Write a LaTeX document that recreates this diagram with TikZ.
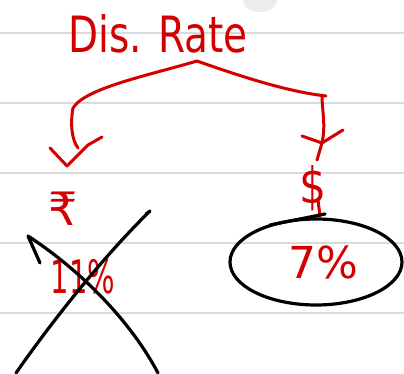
\documentclass[tikz,border=0pt]{standalone}
\usepackage{fontspec}
\setmainfont{DejaVu Sans}
\definecolor{ink}{RGB}{212,0,0}
\definecolor{rule}{RGB}{218,218,218}
\begin{document}
\begin{tikzpicture}[x=1pt,y=-1pt,
  redstroke/.style={draw=ink,line width=3pt,line cap=round,line join=round},
  blackstroke/.style={draw=black,line width=3.2pt,line cap=round,line join=round},
  ruleline/.style={draw=rule,line width=2pt},
  label/.style={text=ink,inner sep=0pt}]
\useasboundingbox (0,0) rectangle (404,374);
\fill[white] (0,0) rectangle (404,374);
\fill[rule!50] (260,0) ellipse [x radius=17, y radius=12];
\foreach \yy in {33,103,173,243,313} \draw[ruleline] (0,\yy) -- (404,\yy);
% labels
\node[label,font=\fontsize{50}{50}\selectfont] (title) at (158,34) {\scalebox{0.78}[1]{Dis. Rate}};
\coordinate (apex) at (197,61);
\node[label,font=\fontsize{46}{46}\selectfont] (rupee) at (63,209) {₹};
\node[label,font=\fontsize{50}{50}\selectfont] (dollar) at (313,188) {\scalebox{0.85}[1]{\$}};
\node[label,font=\fontsize{46}{46}\selectfont] (eleven) at (83,277) {\scalebox{0.63}[1]{11\%}};
\node[label,font=\fontsize{44}{44}\selectfont] (seven) at (323,262) {7\%};
\coordinate (ltip) at (67,166);
\coordinate (rtip) at (322,143);
% connectors
\draw[redstroke] (apex) .. controls (150,75) and (85,88) .. (73,108) .. controls (70,125) and (72,140) .. (78,148);
\draw[redstroke] (50,148) -- (ltip) -- (88,145) -- (102,137);
\draw[redstroke] (apex) .. controls (245,78) and (290,92) .. (326,96);
\draw[redstroke] (322,96) .. controls (322,110) and (326,125) .. (rtip);
\draw[redstroke] (302,136) -- (rtip) -- (343,130);
\draw[redstroke] (rtip) -- (317,160);
\draw[redstroke] (318,200) -- (320,216);
% circle around 7%
\draw[blackstroke] (316,262) ellipse [x radius=86, y radius=43];
\draw[blackstroke] (270,225) -- (325,214);
% cross over 11%
\draw[blackstroke] (16,373) .. controls (60,310) and (110,250) .. (150,211) -- (146,214);
\draw[blackstroke] (40,263) -- (28,236) .. controls (80,270) and (130,320) .. (158,373);
\end{tikzpicture}
\end{document}
